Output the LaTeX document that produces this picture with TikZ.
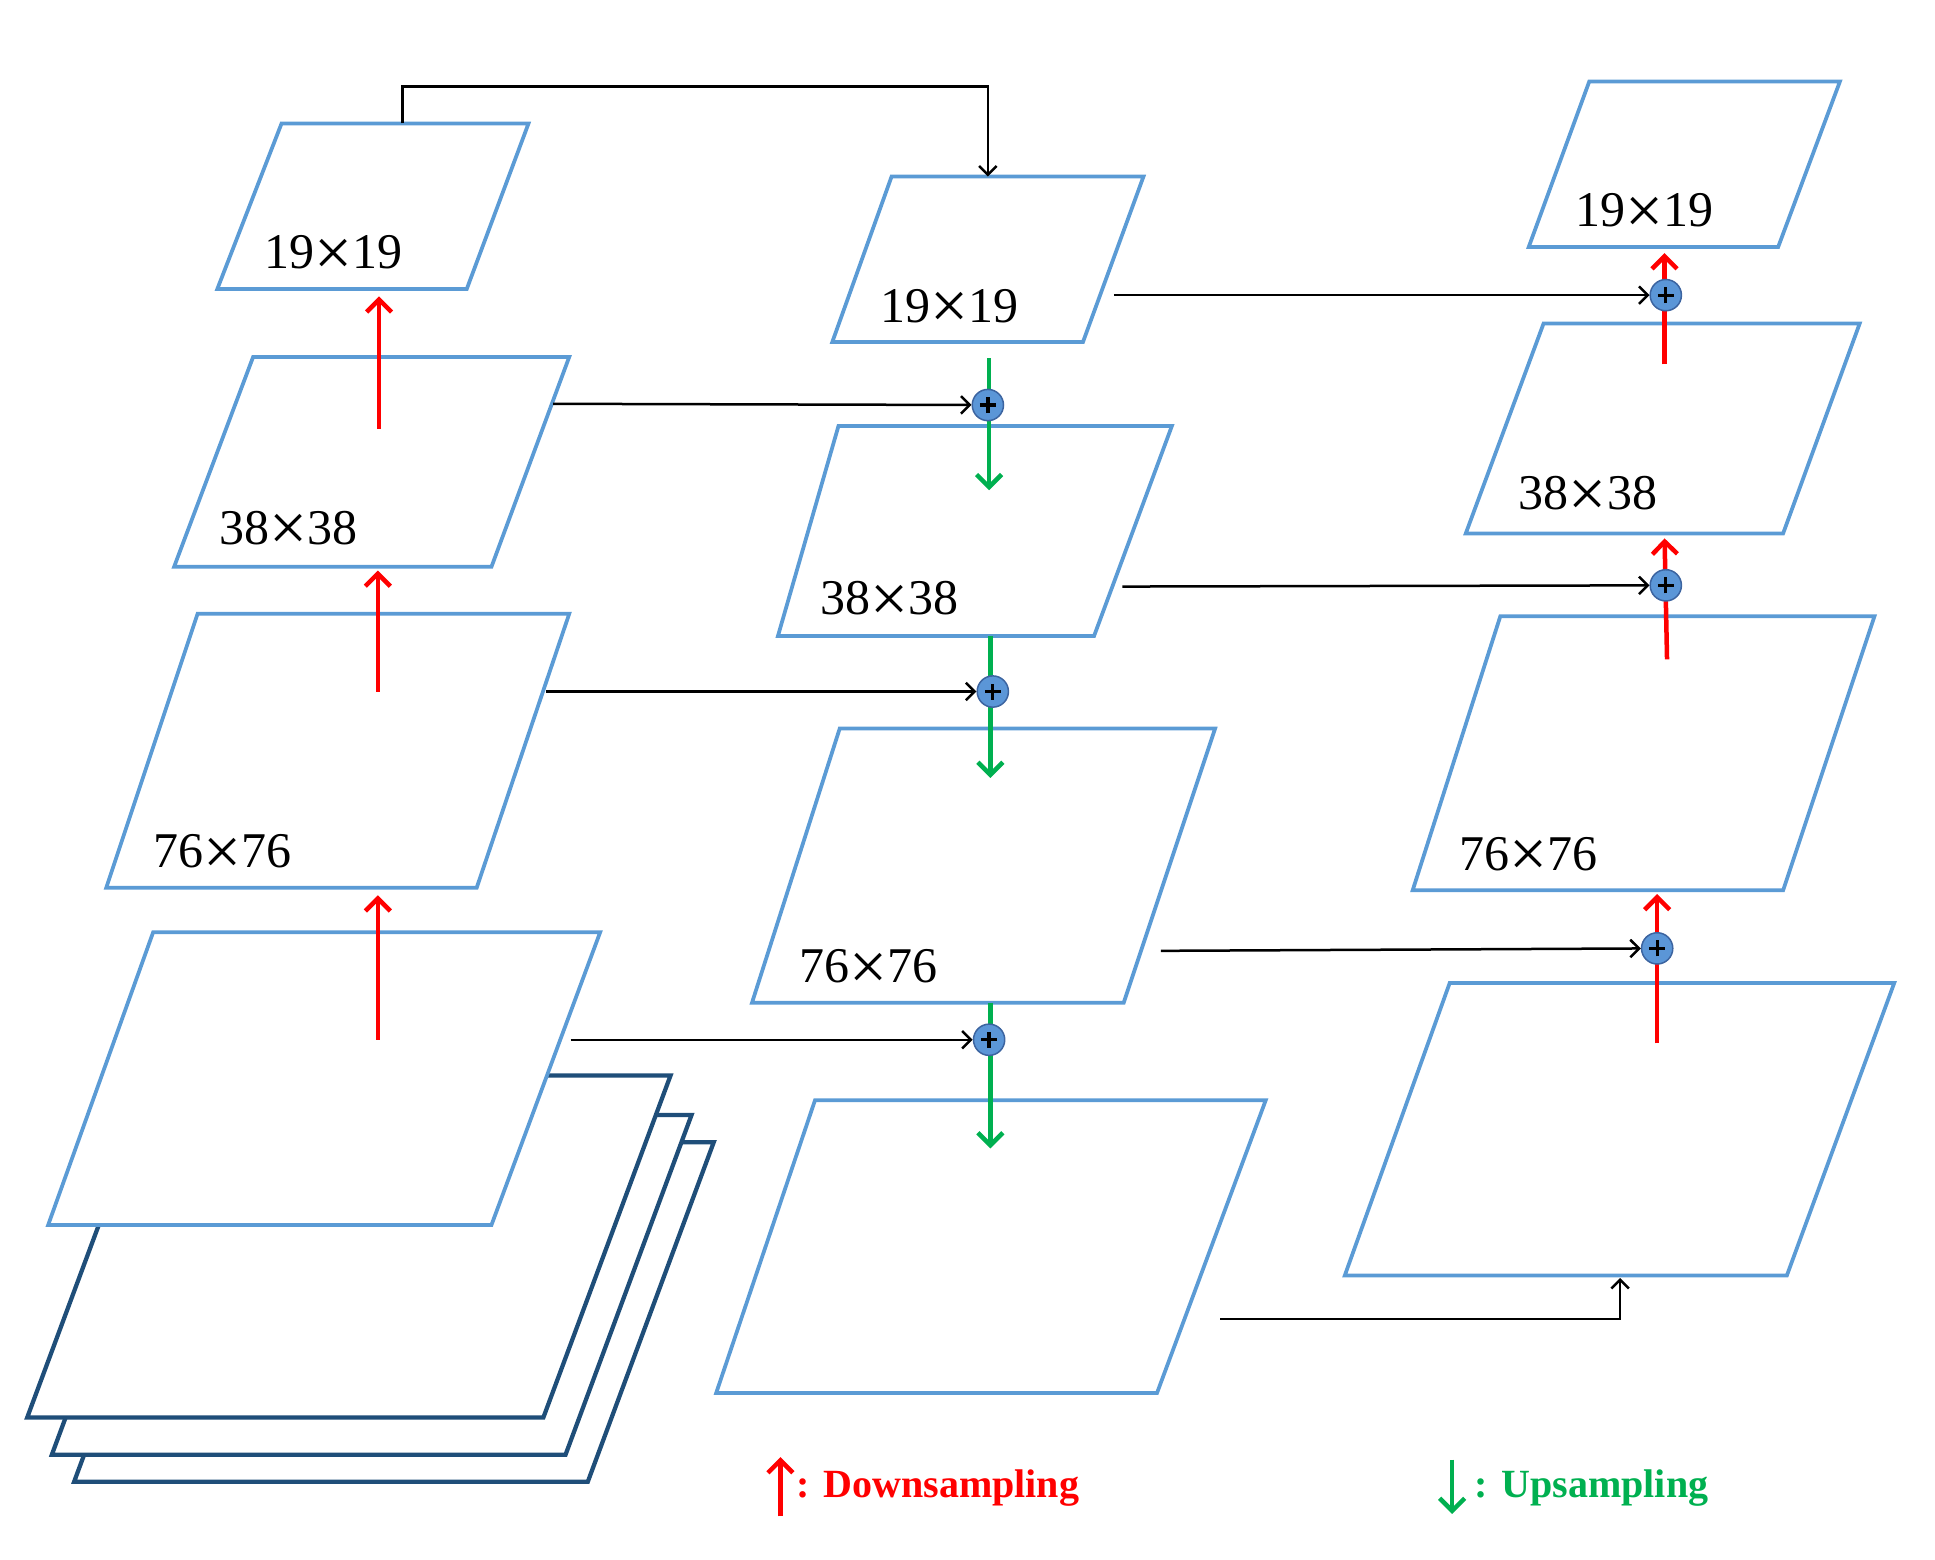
\documentclass[tikz,border=0pt]{standalone}
\usepackage{fontspec}
\setmainfont{Liberation Serif}
\usetikzlibrary{arrows.meta}
\definecolor{boxblue}{RGB}{91,155,213}
\definecolor{navy}{RGB}{31,78,121}
\definecolor{upred}{RGB}{255,0,0}
\definecolor{dngreen}{RGB}{0,176,80}
\definecolor{plusfill}{RGB}{91,150,215}
\definecolor{plusedge}{RGB}{60,100,160}
\begin{document}
\begin{tikzpicture}[x=0.49394pt,y=-0.49394pt,
  bluebox/.style={draw=boxblue,line width=1.5pt,fill=white,line join=miter},
  navybox/.style={draw=navy,line width=1.7pt,fill=white,line join=miter},
  redarr/.style={draw=upred,line width=1.8pt,-{Straight Barb[length=5pt,width=10pt,line width=1.8pt]}},
  grnarr/.style={draw=dngreen,line width=1.8pt,-{Straight Barb[length=5pt,width=10pt,line width=1.8pt]}},
  blkarr/.style={draw=black,line width=1pt,-{Straight Barb[length=3.5pt,width=7pt,line width=1pt]}},
  plusnode/.style={circle,draw=plusedge,line width=0.6pt,fill=plusfill,minimum size=12.5pt,inner sep=0pt,
    path picture={\draw[line width=1.3pt,black] ([xshift=-3.2pt]path picture bounding box.center) -- ([xshift=3.2pt]path picture bounding box.center);
                  \draw[line width=1.3pt,black] ([yshift=-3.2pt]path picture bounding box.center) -- ([yshift=3.2pt]path picture bounding box.center);}},
  sizelabel/.style={inner sep=0pt,font=\fontsize{20}{24}\selectfont},
  legend/.style={inner sep=0pt,anchor=west,font=\fontsize{16}{19}\selectfont\bfseries}]
\useasboundingbox (0,0) rectangle (1567,1263.2);
\newcommand{\tms}{\raisebox{-2.6pt}{\fontsize{27}{24}\selectfont ×}}
% ---- left column ----
\draw[navybox] (162,925) -- (578,925) -- (476,1200) -- (60,1200) -- cycle;
\draw[navybox] (144,903) -- (560,903) -- (458,1178) -- (42,1178) -- cycle;
\draw[navybox] (125,871) -- (543,871) -- (440,1148) -- (22,1148) -- cycle;
\draw[bluebox] (124,755) -- (486,755) -- (398,992) -- (39,992) -- cycle;
\draw[bluebox] (160,497) -- (461,497) -- (386,719) -- (86,719) -- cycle;
\draw[bluebox] (205,289) -- (461,289) -- (398,459) -- (141,459) -- cycle;
\draw[bluebox] (228,100) -- (428,100) -- (378,234) -- (176,234) -- cycle;
\node[sizelabel] (lt19) at (270,207) {19\tms19};
\node[sizelabel] (lt38) at (234,430) {38\tms38};
\node[sizelabel] (lt76) at (180,692) {76\tms76};
% ---- middle column ----
\draw[bluebox] (722,143) -- (926,143) -- (877,277) -- (674,277) -- cycle;
\draw[bluebox] (679,345) -- (949,345) -- (886,515) -- (630,515) -- cycle;
\draw[bluebox] (680,590) -- (984,590) -- (910,812) -- (609,812) -- cycle;
\draw[bluebox] (660,891) -- (1025,891) -- (937,1128) -- (580,1128) -- cycle;
\node[sizelabel] (mt19) at (769,250) {19\tms19};
\node[sizelabel] (mt38) at (720,487) {38\tms38};
\node[sizelabel] (mt76) at (703,785) {76\tms76};
% ---- right column ----
\draw[bluebox] (1287,66) -- (1490,66) -- (1440,200) -- (1238,200) -- cycle;
\draw[bluebox] (1250,262) -- (1506,262) -- (1444,432) -- (1187,432) -- cycle;
\draw[bluebox] (1215,499) -- (1518,499) -- (1444,721) -- (1144,721) -- cycle;
\draw[bluebox] (1174,796) -- (1534,796) -- (1447,1033) -- (1089,1033) -- cycle;
\node[sizelabel] (rt19) at (1332,173) {19\tms19};
\node[sizelabel] (rt38) at (1286,402) {38\tms38};
\node[sizelabel] (rt76) at (1238,694) {76\tms76};
% ---- coordinates ----
\coordinate (ldA) at (307,347); \coordinate (ldAe) at (307,240);
\coordinate (ldB) at (306,560); \coordinate (ldBe) at (306,462);
\coordinate (ldC) at (306,842); \coordinate (ldCe) at (306,725);
\coordinate (topS) at (326,100); \coordinate (topE) at (800,143);
\coordinate (mgA) at (801,290); \coordinate (mgAe) at (801,397);
\coordinate (mgB) at (802,515); \coordinate (mgBe) at (802,630);
\coordinate (mgC) at (802,812); \coordinate (mgCe) at (802,930);
\coordinate (lhA) at (448,327); \coordinate (lhB) at (442,560); \coordinate (lhC) at (462,842);
\coordinate (rdA) at (1348,295); \coordinate (rdAe) at (1348,205);
\coordinate (rdB) at (1350,534); \coordinate (rdBe) at (1348,436);
\coordinate (rdC) at (1342,845); \coordinate (rdCe) at (1342,724);
\coordinate (mhA) at (902,239); \coordinate (mhB) at (909,475); \coordinate (mhC) at (940,770);
\coordinate (botS) at (988,1068); \coordinate (botE) at (1312,1035);
% ---- left red arrows ----
\draw[redarr] (ldA) -- (ldAe);
\draw[redarr] (ldB) -- (ldBe);
\draw[redarr] (ldC) -- (ldCe);
% ---- top connector ----
\draw[blkarr] (topS) -- ++(0,-30) -| (topE);
% ---- middle green arrows and plus nodes ----
\draw[grnarr] (mgA) -- (mgAe);
\draw[grnarr] (mgB) -- (mgBe);
\draw[grnarr] (mgC) -- (mgCe);
\node[plusnode] (pmA) at (800,328) {};
\node[plusnode] (pmB) at (804,560) {};
\node[plusnode] (pmC) at (801,842) {};
\draw[blkarr] (lhA) -- (pmA);
\draw[blkarr] (lhB) -- (pmB);
\draw[blkarr] (lhC) -- (pmC);
% ---- right red arrows and plus nodes ----
\draw[redarr] (rdA) -- (rdAe);
\draw[redarr] (rdB) -- (rdBe);
\draw[redarr] (rdC) -- (rdCe);
\node[plusnode] (prA) at (1349,239) {};
\node[plusnode] (prB) at (1349,474) {};
\node[plusnode] (prC) at (1342,768) {};
\draw[blkarr] (mhA) -- (prA);
\draw[blkarr] (mhB) -- (prB);
\draw[blkarr] (mhC) -- (prC);
\draw[blkarr] (botS) -| (botE);
% ---- legend ----
\coordinate (lgR) at (632,1228); \coordinate (lgRe) at (632,1180);
\coordinate (lgG) at (1176,1182); \coordinate (lgGe) at (1176,1226);
\draw[redarr] (lgR) -- (lgRe);
\draw[grnarr] (lgG) -- (lgGe);
\node[legend,text=upred] (lgRt) at (645,1205) {: Downsampling};
\node[legend,text=dngreen] (lgGt) at (1194,1205) {: Upsampling};
\end{tikzpicture}
\end{document}
